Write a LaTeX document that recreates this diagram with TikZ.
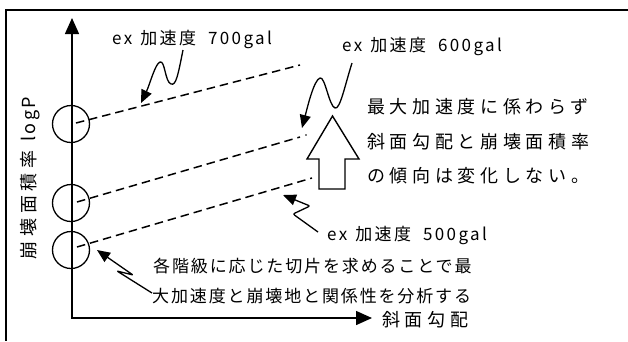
\documentclass[tikz,border=0pt]{standalone}
\usepackage{fontspec}
\newfontfamily\jp{Noto Sans CJK JP}
\newfontfamily\jpwide[LetterSpace=26]{Noto Sans CJK JP}
\newfontfamily\jpmid[LetterSpace=11]{Noto Sans CJK JP}
\newfontfamily\jplbl[LetterSpace=14]{Noto Sans CJK JP}
\usetikzlibrary{arrows.meta}
\tikzset{
  frameline/.style={line width=1.5pt},
  axisline/.style={line width=1.5pt,{Triangle[length=16pt,width=14pt]}-{Triangle[length=16pt,width=14pt]}},
  ring/.style={circle,draw,line width=1.3pt,minimum size=37pt,inner sep=0pt},
  dashline/.style={line width=1.5pt,dash pattern=on 8.5pt off 5pt},
  squig/.style={line width=1.3pt,-{Triangle[length=13pt,width=11pt]}},
  lbl/.style={inner sep=0pt,anchor=west,font=\jplbl\fontsize{17}{19}\selectfont},
  note/.style={inner sep=0pt,anchor=west,font=\jpwide\fontsize{18}{20}\selectfont},
  bnote/.style={inner sep=0pt,anchor=west,font=\jpmid\fontsize{17}{19}\selectfont},
  blockarrow/.style={draw,line width=1.4pt,fill=white}
}
\newcommand{\gapa}{\hspace{8pt}}
\newcommand{\gapb}{\hspace{12pt}}
\begin{document}
\begin{tikzpicture}[x=1pt,y=-1pt]
\useasboundingbox (0,0) rectangle (628,341);
% frame
\draw[frameline] (628,10) -- (6,10) -- (6,341);
% axes
\coordinate (ytop) at (72,18);
\coordinate (O) at (72,318);
\coordinate (xend) at (372,318);
\draw[axisline] (ytop) -- (O) -- (xend);
\node[inner sep=0pt,anchor=west] (xl) at (382,320) {\jpwide\fontsize{18}{20}\selectfont 斜面勾配};
\node[inner sep=0pt,rotate=90] (yl) at (30,178) {\jpwide\fontsize{18}{20}\selectfont 崩壊面積率 {\jplbl logP}};
% circles
\node[ring] (c1) at (71,124) {};
\node[ring] (c2) at (71,203) {};
\node[ring] (c3) at (71,250) {};
% dashed lines
\coordinate (s1) at (76,123);
\coordinate (e1) at (300,65);
\coordinate (s2) at (77,202);
\coordinate (e2) at (300,137);
\coordinate (s3) at (77,247);
\coordinate (e3) at (312,178);
\draw[dashline] (s1) -- (e1);
\draw[dashline] (s2) -- (e2);
\fill (306,135) circle (0.8pt);
\draw[dashline] (s3) -- (e3);
% block arrow
\draw[blockarrow] (319,189) -- (319,159) -- (307,159) -- (332.5,116) -- (359,159) -- (345,159) -- (345,189) -- cycle;
% labels
\node[lbl] (l700) at (112,39) {ex\gapa 加速度\gapb 700gal};
\node[lbl] (l600) at (342,46) {ex\gapa 加速度\gapb 600gal};
\node[lbl] (l500) at (327,235) {ex\gapa 加速度\gapb 500gal};
% notes
\node[note] (n1) at (367,107) {最大加速度に係わらず};
\node[note] (n2) at (367,141.5) {斜面勾配と崩壊面積率};
\node[note] (n3) at (367,176) {の傾向は変化しない。};
\node[bnote] (b1) at (153,266) {各階級に応じた切片を求めることで最};
\node[bnote] (b2) at (152,296) {大加速度と崩壊地と関係性を分析する};
% squiggly arrows
\coordinate (t1) at (141,103);
\coordinate (t2) at (302,128);
\coordinate (t3) at (283,195);
\coordinate (t4) at (97,250);
\draw[squig] (183,50) .. controls (178,75) and (176,86) .. (171,84)
  .. controls (165,82) and (165,60) .. (160,62)
  .. controls (155,64) and (150,84) .. (t1);
\draw[squig] (352,63) .. controls (345,85) and (340,110) .. (335,108)
  .. controls (329,106) and (325,76) .. (320,78)
  .. controls (314,80) and (308,105) .. (t2);
\draw[squig,rounded corners=2pt] (318,232) -- (293,214) -- (310,206) -- (t3);
\draw[squig,rounded corners=1pt] (152,293) -- (117,271) -- (133,275) -- (t4);
\end{tikzpicture}
\end{document}
